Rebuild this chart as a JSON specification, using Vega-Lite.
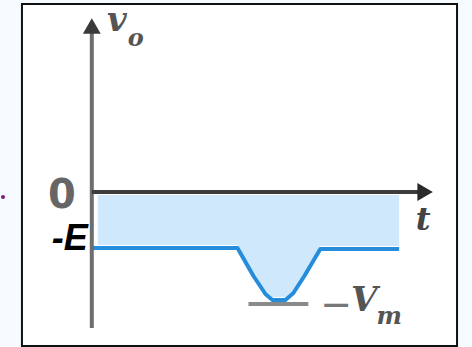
{
  "$schema": "https://vega.github.io/schema/vega-lite/v6.json",
  "width": 472,
  "height": 347,
  "autosize": {"type": "fit", "contains": "padding"},
  "padding": 0,
  "background": "#f5fbfe",
  "config": {"view": {"stroke": null}},
  "datasets": {
    "wave": [
      {"t": 0, "v": -5.6},
      {"t": 14.6, "v": -5.6},
      {"t": 16.2, "v": -8.4},
      {"t": 17.4, "v": -10.2},
      {"t": 18.1, "v": -10.8},
      {"t": 19.4, "v": -10.8},
      {"t": 20.2, "v": -10.1},
      {"t": 21.3, "v": -8.4},
      {"t": 22.9, "v": -5.7},
      {"t": 30.8, "v": -5.7}
    ],
    "fill": [
      {"t": 0.6, "v": -5.3},
      {"t": 14.6, "v": -5.3},
      {"t": 16.2, "v": -8.1},
      {"t": 17.4, "v": -9.9},
      {"t": 18.1, "v": -10.5},
      {"t": 19.4, "v": -10.5},
      {"t": 20.2, "v": -9.8},
      {"t": 21.3, "v": -8.1},
      {"t": 22.9, "v": -5.4},
      {"t": 30.8, "v": -5.4}
    ],
    "frame": [{"t": -7.0, "t2": 36.6, "v": 18.8, "v2": -15.4}],
    "vaxis": [{"t": 0, "v": -13.6, "v2": 16.0}],
    "haxis": [{"t": 0, "t2": 33.5, "v": 0}],
    "varrow": [{"t": 0, "v": 16.6}],
    "harrow": [{"t": 33.4, "v": 0}],
    "vmtick": [{"t": 15.7, "t2": 21.7, "v": -11.2}],
    "dot": [{"t": -8.9, "v": -0.5}],
    "zero": [{"t": -3.0, "v": -0.4, "label": "0"}],
    "elabel": [{"t": -2.2, "v": -4.7, "label": "-E"}],
    "tlabel": [{"t": 33.2, "v": -2.8, "label": "t"}],
    "vlabel": [{"t": 2.5, "v": 17.1, "label": "v"}, {"t": 27.3, "v": -10.9, "label": "V"}],
    "sublabel": [{"t": 4.4, "v": 15.3, "label": "o"}, {"t": 29.8, "v": -12.5, "label": "m"}],
    "minus": [{"t": 24.5, "v": -11.4, "label": "−"}]
  },
  "layer": [
    {
      "data": {"name": "frame"},
      "mark": {"type": "rect", "fill": "#ffffff", "stroke": "#111111", "strokeWidth": 2},
      "encoding": {
        "x": {"field": "t", "type": "quantitative", "scale": {"domain": [-9.1, 38.1], "nice": false, "zero": false}, "axis": null},
        "x2": {"field": "t2"},
        "y": {"field": "v", "type": "quantitative", "scale": {"domain": [-15.5, 19.2], "nice": false, "zero": false}, "axis": null},
        "y2": {"field": "v2"}
      }
    },
    {
      "data": {"name": "fill"},
      "mark": {"type": "area", "color": "#d0e8fb", "opacity": 1},
      "encoding": {
        "x": {"field": "t", "type": "quantitative"},
        "y": {"field": "v", "type": "quantitative"},
        "y2": {"datum": -0.3}
      }
    },
    {
      "data": {"name": "vmtick"},
      "mark": {"type": "rule", "color": "#8a8a8a", "strokeWidth": 4},
      "encoding": {
        "x": {"field": "t", "type": "quantitative"},
        "x2": {"field": "t2"},
        "y": {"field": "v", "type": "quantitative"}
      }
    },
    {
      "data": {"name": "wave"},
      "mark": {"type": "line", "color": "#258ddc", "strokeWidth": 4, "strokeJoin": "round"},
      "encoding": {
        "x": {"field": "t", "type": "quantitative"},
        "y": {"field": "v", "type": "quantitative"}
      }
    },
    {
      "data": {"name": "vaxis"},
      "mark": {"type": "rule", "color": "#6e6e6e", "strokeWidth": 4},
      "encoding": {
        "x": {"field": "t", "type": "quantitative"},
        "y": {"field": "v", "type": "quantitative"},
        "y2": {"field": "v2"}
      }
    },
    {
      "data": {"name": "haxis"},
      "mark": {"type": "rule", "color": "#3c3c3c", "strokeWidth": 4},
      "encoding": {
        "x": {"field": "t", "type": "quantitative"},
        "x2": {"field": "t2"},
        "y": {"field": "v", "type": "quantitative"}
      }
    },
    {
      "data": {"name": "varrow"},
      "mark": {"type": "point", "shape": "triangle-up", "size": 320, "filled": true, "color": "#3a3a3a", "opacity": 1},
      "encoding": {
        "x": {"field": "t", "type": "quantitative"},
        "y": {"field": "v", "type": "quantitative"}
      }
    },
    {
      "data": {"name": "harrow"},
      "mark": {"type": "point", "shape": "triangle-right", "size": 320, "filled": true, "color": "#2a2a2a", "opacity": 1},
      "encoding": {
        "x": {"field": "t", "type": "quantitative"},
        "y": {"field": "v", "type": "quantitative"}
      }
    },
    {
      "data": {"name": "dot"},
      "mark": {"type": "point", "shape": "circle", "size": 16, "filled": true, "color": "#7a1a7a", "opacity": 1},
      "encoding": {
        "x": {"field": "t", "type": "quantitative"},
        "y": {"field": "v", "type": "quantitative"}
      }
    },
    {
      "data": {"name": "zero"},
      "mark": {"type": "text", "font": "DejaVu Sans", "fontSize": 40, "fontWeight": "bold", "color": "#666666", "align": "center", "baseline": "middle"},
      "encoding": {
        "x": {"field": "t", "type": "quantitative"},
        "y": {"field": "v", "type": "quantitative"},
        "text": {"field": "label"}
      }
    },
    {
      "data": {"name": "elabel"},
      "mark": {"type": "text", "font": "Liberation Sans", "fontSize": 36, "fontStyle": "italic", "fontWeight": "bold", "color": "#000000", "align": "center", "baseline": "middle"},
      "encoding": {
        "x": {"field": "t", "type": "quantitative"},
        "y": {"field": "v", "type": "quantitative"},
        "text": {"field": "label"}
      }
    },
    {
      "data": {"name": "tlabel"},
      "mark": {"type": "text", "font": "DejaVu Serif", "fontSize": 32, "fontStyle": "italic", "fontWeight": "bold", "color": "#444444", "align": "center", "baseline": "middle"},
      "encoding": {
        "x": {"field": "t", "type": "quantitative"},
        "y": {"field": "v", "type": "quantitative"},
        "text": {"field": "label"}
      }
    },
    {
      "data": {"name": "vlabel"},
      "mark": {"type": "text", "font": "DejaVu Serif", "fontSize": 34, "fontStyle": "italic", "fontWeight": "bold", "color": "#555555", "align": "center", "baseline": "middle"},
      "encoding": {
        "x": {"field": "t", "type": "quantitative"},
        "y": {"field": "v", "type": "quantitative"},
        "text": {"field": "label"}
      }
    },
    {
      "data": {"name": "sublabel"},
      "mark": {"type": "text", "font": "DejaVu Serif", "fontSize": 24, "fontStyle": "italic", "fontWeight": "bold", "color": "#555555", "align": "center", "baseline": "middle"},
      "encoding": {
        "x": {"field": "t", "type": "quantitative"},
        "y": {"field": "v", "type": "quantitative"},
        "text": {"field": "label"}
      }
    },
    {
      "data": {"name": "minus"},
      "mark": {"type": "text", "font": "DejaVu Sans", "fontSize": 38, "color": "#777777", "align": "center", "baseline": "middle"},
      "encoding": {
        "x": {"field": "t", "type": "quantitative"},
        "y": {"field": "v", "type": "quantitative"},
        "text": {"field": "label"}
      }
    }
  ]
}
